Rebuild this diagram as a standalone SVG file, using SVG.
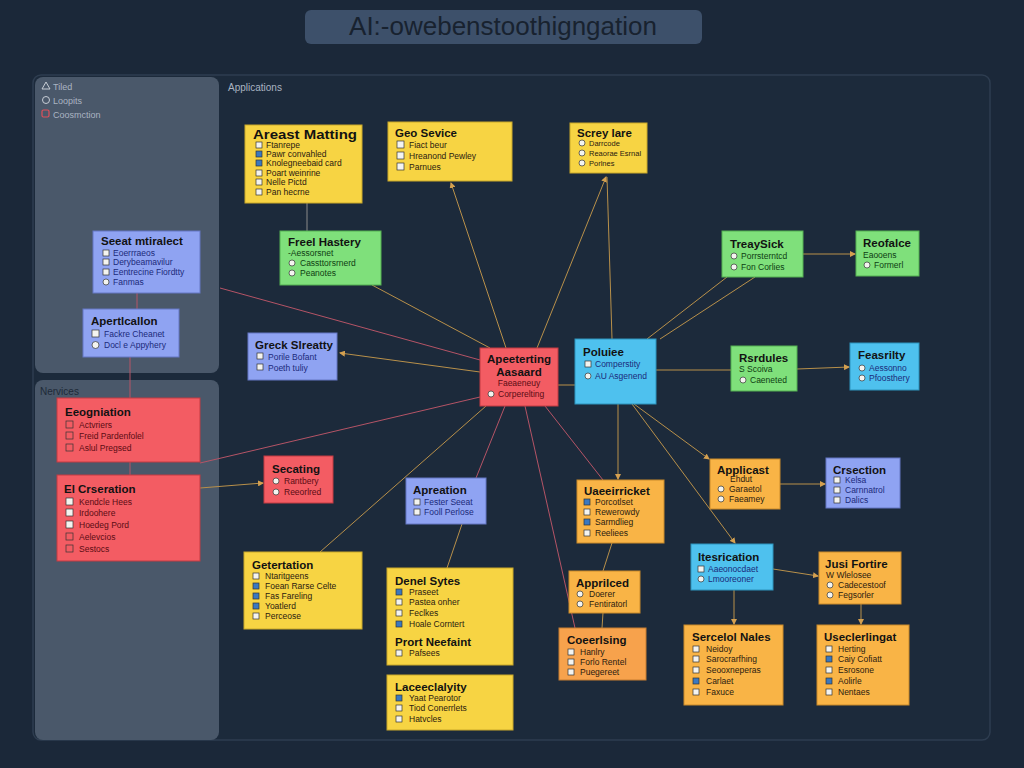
<svg xmlns="http://www.w3.org/2000/svg" width="1024" height="768" viewBox="0 0 1024 768">
<defs>
<style>
.t{font-family:"Liberation Sans",Arial,sans-serif;font-weight:bold;font-size:11.5px;fill:#121212}
.i{font-family:"Liberation Sans",Arial,sans-serif;font-size:8.5px;fill:#2a2010}
.ib{font-family:"Liberation Sans",Arial,sans-serif;font-size:8.5px;fill:#1b2a7a}
.ir{font-family:"Liberation Sans",Arial,sans-serif;font-size:8.5px;fill:#5a0c14}
.ig{font-family:"Liberation Sans",Arial,sans-serif;font-size:8.5px;fill:#0e3d12}
.cb{fill:#f4f4f0;stroke:#333;stroke-width:0.7}
.cbb{fill:#3a78c0;stroke:#333;stroke-width:0.7}
.yel{fill:#f7d443;stroke:#c9a82a;stroke-width:1}
.ora{fill:#f9b446;stroke:#c98a2a;stroke-width:1}
.ora2{fill:#f7a24c;stroke:#c67c30;stroke-width:1}
.grn{fill:#7fe07b;stroke:#55b052;stroke-width:1}
.blu{fill:#8fa3f2;stroke:#6477c4;stroke-width:1}
.cya{fill:#4ec1ee;stroke:#2d93bd;stroke-width:1}
.red{fill:#f35c63;stroke:#c23a42;stroke-width:1}
.lo{stroke:#b8904a;stroke-width:1;fill:none}
.lp{stroke:#b55466;stroke-width:1;fill:none}
.lg{stroke:#8a8a8a;stroke-width:1;fill:none}
.lab{font-family:"Liberation Sans",Arial,sans-serif;font-size:10px;fill:#aab4c2}
</style>
<marker id="ar" markerWidth="6" markerHeight="6" refX="5" refY="3" orient="auto" markerUnits="userSpaceOnUse"><path d="M0,0 L6,3 L0,6 Z" fill="#d4a050"/></marker>
</defs>
<rect width="1024" height="768" fill="#1b2839"/>
<rect x="305" y="10" width="397" height="34" rx="6" fill="#3d506a"/>
<text x="503" y="35" text-anchor="middle" font-family="Liberation Sans,Arial,sans-serif" font-size="26" fill="#18222f">AI:-owebenstoothigngation</text>
<rect x="33" y="75" width="957" height="665" rx="8" fill="#1c2a3b" stroke="#2e3d50" stroke-width="1.5"/>
<rect x="35" y="77" width="184" height="296" rx="8" fill="#4a586a"/>
<rect x="35" y="380" width="184" height="360" rx="8" fill="#4a586a"/>
<g id="legend">
<path d="M42,89 L46,82 L50,89 Z" fill="none" stroke="#c8ced6" stroke-width="1"/>
<text class="lab" x="53" y="90" style="font-size:9px">Tiled</text>
<circle cx="46" cy="100" r="3.5" fill="none" stroke="#c8ced6" stroke-width="1"/>
<text class="lab" x="53" y="104" style="font-size:9px">Loopits</text>
<rect x="42" y="110" width="7" height="7" rx="1.5" fill="none" stroke="#e0505a" stroke-width="1.2"/>
<text class="lab" x="53" y="118" style="font-size:9px">Coosmction</text>
<text class="lab" x="228" y="91">Applications</text>
<text class="lab" x="40" y="395" style="fill:#1e2a38">Nervices</text>
</g>
<g id="connectors">
<line class="lg" x1="307" y1="203" x2="307" y2="231"/>
<line class="lo" x1="506" y1="348" x2="451" y2="183" marker-end="url(#ar)"/>
<line class="lo" x1="537" y1="348" x2="606" y2="177" marker-end="url(#ar)"/>
<line class="lo" x1="612" y1="339" x2="607" y2="177"/>
<line class="lo" x1="490" y1="348" x2="372" y2="285"/>
<line class="lp" x1="220" y1="288" x2="480" y2="360"/>
<line class="lo" x1="480" y1="372" x2="340" y2="353" marker-end="url(#ar)"/>
<line class="lp" x1="480" y1="397" x2="200" y2="463"/>
<line class="lo" x1="486" y1="406" x2="320" y2="552"/>
<line class="lp" x1="505" y1="406" x2="476" y2="478"/>
<line class="lp" x1="525" y1="406" x2="575" y2="628"/>
<line class="lp" x1="545" y1="406" x2="603" y2="480"/>
<line class="lo" x1="558" y1="385" x2="575" y2="385"/>
<line class="lo" x1="647" y1="339" x2="727" y2="277"/>
<line class="lo" x1="660" y1="339" x2="755" y2="277"/>
<line class="lo" x1="803" y1="254" x2="855" y2="254" marker-end="url(#ar)"/>
<line class="lo" x1="656" y1="370" x2="731" y2="370"/>
<line class="lo" x1="797" y1="369" x2="849" y2="367" marker-end="url(#ar)"/>
<line class="lo" x1="618" y1="404" x2="618" y2="479" marker-end="url(#ar)"/>
<line class="lo" x1="634" y1="404" x2="709" y2="459" marker-end="url(#ar)"/>
<line class="lo" x1="632" y1="404" x2="735" y2="543" marker-end="url(#ar)"/>
<line class="lo" x1="780" y1="484" x2="825" y2="484" marker-end="url(#ar)"/>
<line class="lo" x1="773" y1="569" x2="818" y2="576" marker-end="url(#ar)"/>
<line class="lo" x1="734" y1="590" x2="734" y2="624" marker-end="url(#ar)"/>
<line class="lo" x1="861" y1="604" x2="861" y2="624" marker-end="url(#ar)"/>
<line class="lo" x1="612" y1="543" x2="603" y2="571"/>
<line class="lo" x1="603" y1="613" x2="602" y2="628"/>
<line class="lo" x1="462" y1="524" x2="447" y2="568"/>
<line class="lp" x1="137" y1="293" x2="137" y2="309"/>
<line class="lp" x1="130" y1="357" x2="130" y2="398"/>
<line class="lp" x1="130" y1="462" x2="130" y2="475"/>
<line class="lo" x1="200" y1="488" x2="263" y2="483" marker-end="url(#ar)"/>
</g>
<g id="n-areast">
<rect class="yel" x="245" y="125" width="117" height="78"/>
<text class="t" x="253" y="139" style="font-size:13px" textLength="104" lengthAdjust="spacingAndGlyphs">Areast Matting</text>
<rect class="cb" x="256" y="142" width="6" height="6"/><text class="i" x="266" y="148">Ftanrepe</text>
<rect class="cbb" x="256" y="151" width="6" height="6"/><text class="i" x="266" y="157">Pawr convahled</text>
<rect class="cbb" x="256" y="160" width="6" height="6"/><text class="i" x="266" y="166">Knolegneebaid card</text>
<rect class="cb" x="256" y="170" width="6" height="6"/><text class="i" x="266" y="176">Poart weinrine</text>
<rect class="cb" x="256" y="179" width="6" height="6"/><text class="i" x="266" y="185">Nelle Pictd</text>
<rect class="cb" x="256" y="189" width="6" height="6"/><text class="i" x="266" y="195">Pan hecrne</text>
</g>
<g id="n-geo">
<rect class="yel" x="388" y="122" width="124" height="59"/>
<text class="t" x="395" y="137">Geo Sevice</text>
<rect class="cb" x="397" y="141" width="7" height="7"/><text class="i" x="409" y="148">Fiact beur</text>
<rect class="cb" x="397" y="152" width="7" height="7"/><text class="i" x="409" y="159">Hreanond Pewley</text>
<rect class="cb" x="397" y="163" width="7" height="7"/><text class="i" x="409" y="170">Parnues</text>
</g>
<g id="n-screy">
<rect class="yel" x="570" y="123" width="77" height="50"/>
<text class="t" x="577" y="137">Screy lare</text>
<circle class="cb" cx="582" cy="143" r="3"/><text class="i" x="589" y="146" style="font-size:7.5px">Darrcode</text>
<circle class="cb" cx="582" cy="153" r="3"/><text class="i" x="589" y="156" style="font-size:7.5px">Reaorae Esrnal</text>
<circle class="cb" cx="582" cy="163" r="3"/><text class="i" x="589" y="166" style="font-size:7.5px">Porlnes</text>
</g>
<g id="n-freel">
<rect class="grn" x="280" y="231" width="101" height="54"/>
<text class="t" x="288" y="246">Freel Hastery</text>
<text class="ig" x="288" y="256">-Aessorsnet</text>
<circle class="cb" cx="292" cy="263" r="3"/><text class="ig" x="300" y="266">Cassttorsrnerd</text>
<circle class="cb" cx="292" cy="273" r="3"/><text class="ig" x="300" y="276">Peanotes</text>
</g>
<g id="n-seeat">
<rect class="blu" x="93" y="231" width="107" height="62"/>
<text class="t" x="101" y="245">Seeat mtiralect</text>
<rect class="cb" x="103" y="250" width="6" height="6"/><text class="ib" x="113" y="256">Eoerrraeos</text>
<rect class="cb" x="103" y="259" width="6" height="6"/><text class="ib" x="113" y="265">Derybeamavilur</text>
<rect class="cb" x="103" y="269" width="6" height="6"/><text class="ib" x="113" y="275">Eentrecine Fiordtty</text>
<circle class="cb" cx="106" cy="282" r="3"/><text class="ib" x="113" y="285">Fanmas</text>
</g>
<g id="n-apert">
<rect class="blu" x="83" y="309" width="96" height="48"/>
<text class="t" x="91" y="325">Apertlcallon</text>
<rect class="cb" x="92" y="330" width="7" height="7"/><text class="ib" x="104" y="337">Fackre Cheanet</text>
<circle class="cb" cx="95.5" cy="345" r="3.5"/><text class="ib" x="104" y="348">Docl e Appyhery</text>
</g>
<g id="n-greck">
<rect class="blu" x="248" y="333" width="89" height="47"/>
<text class="t" x="255" y="349">Greck Slreatty</text>
<rect class="cb" x="257" y="353" width="6" height="6"/><text class="ib" x="268" y="360">Porile Bofant</text>
<rect class="cb" x="257" y="364" width="6" height="6"/><text class="ib" x="268" y="371">Poeth tuliy</text>
</g>
<g id="n-hub">
<rect class="red" x="480" y="348" width="78" height="58"/>
<text class="t" x="519" y="363" text-anchor="middle">Apeeterting</text>
<text class="t" x="519" y="376" text-anchor="middle">Aasaard</text>
<text class="ir" x="519" y="386" text-anchor="middle">Faeaeneuy</text>
<circle class="cb" cx="491" cy="394" r="3"/><text class="ir" x="498" y="397">Corperelting</text>
</g>
<g id="n-poluiee">
<rect class="cya" x="575" y="339" width="81" height="65"/>
<text class="t" x="583" y="356">Poluiee</text>
<rect class="cb" x="585" y="361" width="6" height="6"/><text class="ib" x="595" y="367">Comperstity</text>
<circle class="cb" cx="588" cy="376" r="3"/><text class="ib" x="595" y="379">AU Asgenend</text>
</g>
<g id="n-treay">
<rect class="grn" x="722" y="231" width="81" height="46"/>
<text class="t" x="730" y="248">TreaySick</text>
<circle class="cb" cx="734" cy="256" r="3"/><text class="ig" x="741" y="259">Porrsterntcd</text>
<circle class="cb" cx="734" cy="267" r="3"/><text class="ig" x="741" y="270">Fon Corlies</text>
</g>
<g id="n-reofalce">
<rect class="grn" x="856" y="231" width="63" height="45"/>
<text class="t" x="863" y="247">Reofalce</text>
<text class="ig" x="863" y="258">Eaooens</text>
<circle class="cb" cx="867" cy="265" r="3"/><text class="ig" x="874" y="268">Formerl</text>
</g>
<g id="n-rsrdules">
<rect class="grn" x="731" y="346" width="66" height="45"/>
<text class="t" x="739" y="362">Rsrdules</text>
<text class="ig" x="739" y="372">S Scoiva</text>
<circle class="cb" cx="743" cy="380" r="3"/><text class="ig" x="750" y="383">Caeneted</text>
</g>
<g id="n-feasrilty">
<rect class="cya" x="850" y="343" width="69" height="47"/>
<text class="t" x="858" y="359">Feasrilty</text>
<circle class="cb" cx="862" cy="368" r="3"/><text class="ib" x="869" y="371">Aessonno</text>
<circle class="cb" cx="862" cy="378" r="3"/><text class="ib" x="869" y="381">Pfoosthery</text>
</g>
<g id="n-eeogn">
<rect class="red" x="57" y="398" width="143" height="64"/>
<text class="t" x="65" y="416">Eeogniation</text>
<rect class="cb" x="66" y="421" width="7" height="7" style="fill:none"/><text class="ir" x="79" y="428">Actvriers</text>
<rect class="cb" x="66" y="432" width="7" height="7" style="fill:none"/><text class="ir" x="79" y="439">Freid Pardenfolel</text>
<rect class="cb" x="66" y="444" width="7" height="7" style="fill:none"/><text class="ir" x="79" y="451">Aslul Pregsed</text>
</g>
<g id="n-elcrs">
<rect class="red" x="57" y="475" width="143" height="86"/>
<text class="t" x="64" y="493">El Crseration</text>
<rect class="cb" x="66" y="498" width="7" height="7"/><text class="ir" x="79" y="505">Kendcle Hees</text>
<rect class="cb" x="66" y="509" width="7" height="7"/><text class="ir" x="79" y="516">Irdoohere</text>
<rect class="cb" x="66" y="521" width="7" height="7"/><text class="ir" x="79" y="528">Hoedeg Pord</text>
<rect class="cb" x="66" y="533" width="7" height="7" style="fill:none"/><text class="ir" x="79" y="540">Aelevcios</text>
<rect class="cb" x="66" y="545" width="7" height="7" style="fill:none"/><text class="ir" x="79" y="552">Sestocs</text>
</g>
<g id="n-secating">
<rect class="red" x="264" y="456" width="69" height="47"/>
<text class="t" x="272" y="473">Secating</text>
<circle class="cb" cx="276" cy="481" r="3"/><text class="ir" x="284" y="484">Rantbery</text>
<circle class="cb" cx="276" cy="492" r="3"/><text class="ir" x="284" y="495">Reeorlred</text>
</g>
<g id="n-apreation">
<rect class="blu" x="406" y="478" width="80" height="46"/>
<text class="t" x="413" y="494">Apreation</text>
<rect class="cb" x="414" y="499" width="6" height="6"/><text class="ib" x="424" y="505">Fester Seeat</text>
<rect class="cb" x="414" y="509" width="6" height="6"/><text class="ib" x="424" y="515">Fooll Perlose</text>
</g>
<g id="n-uaeeir">
<rect class="ora" x="577" y="480" width="87" height="63"/>
<text class="t" x="584" y="495">Uaeeirricket</text>
<rect class="cbb" x="584" y="499" width="6" height="6"/><text class="i" x="595" y="505">Porcotlset</text>
<rect class="cb" x="584" y="509" width="6" height="6"/><text class="i" x="595" y="515">Rewerowdy</text>
<rect class="cbb" x="584" y="519" width="6" height="6"/><text class="i" x="595" y="525">Sarmdlieg</text>
<rect class="cb" x="584" y="530" width="6" height="6"/><text class="i" x="595" y="536">Reeliees</text>
</g>
<g id="n-applicast">
<rect class="ora" x="710" y="459" width="70" height="50"/>
<text class="t" x="717" y="474">Applicast</text>
<text class="i" x="730" y="482">Ehdut</text>
<circle class="cb" cx="721" cy="489" r="3"/><text class="i" x="729" y="492">Garaetol</text>
<circle class="cb" cx="721" cy="499" r="3"/><text class="i" x="729" y="502">Faeamey</text>
</g>
<g id="n-crsection">
<rect class="blu" x="826" y="458" width="74" height="50"/>
<text class="t" x="833" y="474">Crsection</text>
<rect class="cb" x="834" y="477" width="6" height="6"/><text class="ib" x="845" y="483">Kelsa</text>
<rect class="cb" x="834" y="487" width="6" height="6"/><text class="ib" x="845" y="493">Carnnatrol</text>
<rect class="cb" x="834" y="497" width="6" height="6"/><text class="ib" x="845" y="503">Dalics</text>
</g>
<g id="n-itesric">
<rect class="cya" x="691" y="544" width="82" height="46"/>
<text class="t" x="698" y="561">Itesrication</text>
<rect class="cb" x="698" y="566" width="6" height="6"/><text class="ib" x="708" y="572">Aaeonocdaet</text>
<circle class="cb" cx="701" cy="579" r="3"/><text class="ib" x="708" y="582">Lmooreoner</text>
</g>
<g id="n-jusi">
<rect class="ora" x="819" y="552" width="82" height="52"/>
<text class="t" x="825" y="568">Jusi Fortire</text>
<text class="i" x="826" y="578">W Wlelosee</text>
<circle class="cb" cx="830" cy="585" r="3"/><text class="i" x="838" y="588">Cadecestoof</text>
<circle class="cb" cx="830" cy="595" r="3"/><text class="i" x="838" y="598">Fegsorler</text>
</g>
<g id="n-sercelol">
<rect class="ora" x="684" y="625" width="99" height="80"/>
<text class="t" x="692" y="641">Sercelol Nales</text>
<rect class="cb" x="693" y="646" width="6" height="6"/><text class="i" x="706" y="652">Neidoy</text>
<rect class="cb" x="693" y="656" width="6" height="6"/><text class="i" x="706" y="662">Sarocrarfhing</text>
<rect class="cb" x="693" y="667" width="6" height="6"/><text class="i" x="706" y="673">Seooxneperas</text>
<rect class="cbb" x="693" y="678" width="6" height="6"/><text class="i" x="706" y="684">Carlaet</text>
<rect class="cb" x="693" y="689" width="6" height="6"/><text class="i" x="706" y="695">Faxuce</text>
</g>
<g id="n-usecler">
<rect class="ora" x="817" y="625" width="92" height="80"/>
<text class="t" x="824" y="641">Useclerlingat</text>
<rect class="cb" x="826" y="646" width="6" height="6"/><text class="i" x="838" y="652">Herting</text>
<rect class="cbb" x="826" y="656" width="6" height="6"/><text class="i" x="838" y="662">Caiy Cofiatt</text>
<rect class="cb" x="826" y="667" width="6" height="6"/><text class="i" x="838" y="673">Esrosone</text>
<rect class="cbb" x="826" y="678" width="6" height="6"/><text class="i" x="838" y="684">Aolirle</text>
<rect class="cb" x="826" y="689" width="6" height="6"/><text class="i" x="838" y="695">Nentaes</text>
</g>
<g id="n-apprilced">
<rect class="ora" x="569" y="571" width="71" height="42"/>
<text class="t" x="576" y="587">Apprilced</text>
<circle class="cb" cx="580" cy="594" r="3"/><text class="i" x="589" y="597">Doerer</text>
<circle class="cb" cx="580" cy="604" r="3"/><text class="i" x="589" y="607">Fentiratorl</text>
</g>
<g id="n-coeerl">
<rect class="ora2" x="559" y="628" width="87" height="52"/>
<text class="t" x="567" y="644">Coeerlsing</text>
<rect class="cb" x="568" y="649" width="6" height="6"/><text class="i" x="580" y="655">Hanlry</text>
<rect class="cb" x="568" y="659" width="6" height="6"/><text class="i" x="580" y="665">Forlo Rentel</text>
<rect class="cb" x="568" y="669" width="6" height="6"/><text class="i" x="580" y="675">Puegereet</text>
</g>
<g id="n-denel">
<rect class="yel" x="387" y="568" width="126" height="97"/>
<text class="t" x="395" y="585">Denel Sytes</text>
<rect class="cbb" x="396" y="589" width="6" height="6"/><text class="i" x="409" y="595">Praseet</text>
<rect class="cb" x="396" y="599" width="6" height="6"/><text class="i" x="409" y="605">Pastea onher</text>
<rect class="cb" x="396" y="610" width="6" height="6"/><text class="i" x="409" y="616">Feclkes</text>
<rect class="cbb" x="396" y="621" width="6" height="6"/><text class="i" x="409" y="627">Hoale Corntert</text>
<text class="t" x="395" y="646">Prort Neefaint</text>
<rect class="cb" x="396" y="650" width="6" height="6"/><text class="i" x="409" y="656">Pafsees</text>
</g>
<g id="n-lacee">
<rect class="yel" x="387" y="675" width="126" height="55"/>
<text class="t" x="395" y="691">Laceeclalyity</text>
<rect class="cbb" x="396" y="695" width="6" height="6"/><text class="i" x="409" y="701">Yaat Pearotor</text>
<rect class="cb" x="396" y="705" width="6" height="6"/><text class="i" x="409" y="711">Tiod Conerrlets</text>
<rect class="cb" x="396" y="716" width="6" height="6"/><text class="i" x="409" y="722">Hatvcles</text>
</g>
<g id="n-getert">
<rect class="yel" x="244" y="552" width="118" height="77"/>
<text class="t" x="252" y="569">Getertation</text>
<rect class="cb" x="253" y="573" width="6" height="6"/><text class="i" x="265" y="579">Ntaritgeens</text>
<rect class="cbb" x="253" y="583" width="6" height="6"/><text class="i" x="265" y="589">Foean Rarse Celte</text>
<rect class="cbb" x="253" y="593" width="6" height="6"/><text class="i" x="265" y="599">Fas Fareling</text>
<rect class="cbb" x="253" y="603" width="6" height="6"/><text class="i" x="265" y="609">Yoatlerd</text>
<rect class="cb" x="253" y="613" width="6" height="6"/><text class="i" x="265" y="619">Perceose</text>
</g>
</svg>
